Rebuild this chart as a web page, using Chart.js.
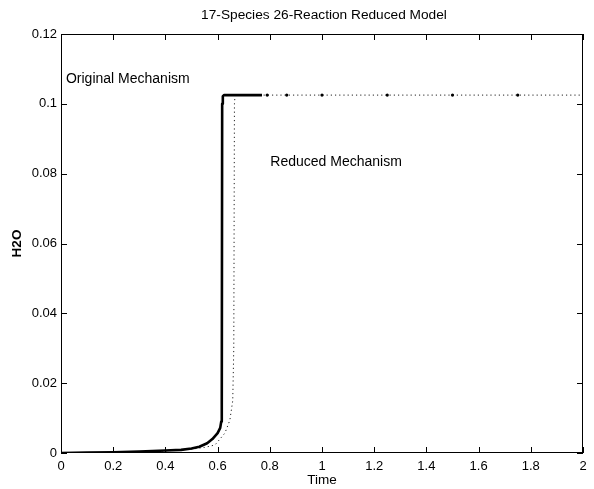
<!DOCTYPE html>
<html>
<head>
<meta charset="utf-8">
<title>17-Species 26-Reaction Reduced Model</title>
<script src="https://cdn.jsdelivr.net/npm/chart.js@4.4.0/dist/chart.umd.min.js"></script>
<style>
    html, body { margin: 0; padding: 0; background: #ffffff; }
    #wrap { width: 594px; height: 489px; position: relative; }
</style>
</head>
<body>
<div id="wrap"><canvas id="h2oChart"></canvas></div>
<script>
// Data
const chartTitle = '17-Species 26-Reaction Reduced Model';

const originalTime = [0, 0.1, 0.2, 0.3, 0.4, 0.46, 0.5, 0.53, 0.56, 0.58, 0.6, 0.61, 0.614, 0.616, 0.6175, 0.62, 0.625, 0.65, 0.7, 0.77];
const originalH2O  = [0, 0.0001, 0.0002, 0.0004, 0.0007, 0.0009, 0.0013, 0.0018, 0.0028, 0.004, 0.0057, 0.0072, 0.009, 0.014, 0.1, 0.1022, 0.1025, 0.1025, 0.1025, 0.1025];

const reducedTime = [0, 0.1, 0.2, 0.3, 0.4, 0.5, 0.55, 0.59, 0.628, 0.647, 0.658, 0.662, 0.6645, 0.667, 0.7, 0.79, 0.865, 1.0, 1.25, 1.5, 1.75, 2.0];
const reducedH2O  = [0, 0.0001, 0.0002, 0.0003, 0.0006, 0.0011, 0.0016, 0.0023, 0.0057, 0.0094, 0.015, 0.03, 0.1, 0.1025, 0.1025, 0.1025, 0.1025, 0.1025, 0.1025, 0.1025, 0.1025, 0.1025];
const reducedMarked = [0.79, 0.865, 1.0, 1.25, 1.5, 1.75];

const xTickValues = [0, 0.2, 0.4, 0.6, 0.8, 1, 1.2, 1.4, 1.6, 1.8, 2];
const xTickLabels = ['0', '0.2', '0.4', '0.6', '0.8', '1', '1.2', '1.4', '1.6', '1.8', '2'];
const yTickValues = [0, 0.02, 0.04, 0.06, 0.08, 0.1, 0.12];
const yTickLabels = ['0', '0.02', '0.04', '0.06', '0.08', '0.1', '0.12'];

const annotations = [
    { text: 'Original Mechanism', x: 0.019, y: 0.107 },
    { text: 'Reduced Mechanism', x: 0.802, y: 0.0832 }
];

const FONT = '"Liberation Sans", Arial, Helvetica, sans-serif';

function toPoints(xs, ys) {
    return xs.map((x, i) => ({ x: x, y: ys[i] }));
}

// Matlab-style frame: box, inward ticks on all sides, title and text labels
const matlabFrame = {
    id: 'matlabFrame',
    afterDraw(chart) {
        const ctx = chart.ctx;
        const a = chart.chartArea;
        const xs = chart.scales.x;
        const ys = chart.scales.y;
        const len = 6;
        ctx.save();
        ctx.strokeStyle = '#000';
        ctx.lineWidth = 1;
        ctx.strokeRect(a.left + 0.5, a.top + 0.5, a.right - a.left - 1, a.bottom - a.top - 1);
        ctx.beginPath();
        xTickValues.forEach(v => {
            const px = Math.round(xs.getPixelForValue(v)) + 0.5;
            ctx.moveTo(px, a.bottom); ctx.lineTo(px, a.bottom - len);
            ctx.moveTo(px, a.top); ctx.lineTo(px, a.top + len);
        });
        yTickValues.forEach(v => {
            const py = Math.round(ys.getPixelForValue(v)) + 0.5;
            ctx.moveTo(a.left, py); ctx.lineTo(a.left + len, py);
            ctx.moveTo(a.right, py); ctx.lineTo(a.right - len, py);
        });
        ctx.stroke();

        ctx.fillStyle = '#000';
        ctx.font = '13.7px ' + FONT;
        ctx.textAlign = 'center';
        ctx.textBaseline = 'middle';
        ctx.fillText(chartTitle, (a.left + a.right) / 2 + 2, 15);

        ctx.font = '14px ' + FONT;
        ctx.textAlign = 'left';
        annotations.forEach(n => {
            ctx.fillText(n.text, xs.getPixelForValue(n.x), ys.getPixelForValue(n.y));
        });
        ctx.restore();
    }
};

new Chart(document.getElementById('h2oChart'), {
    type: 'scatter',
    data: {
        datasets: [
            {
                label: 'Original Mechanism',
                data: toPoints(originalTime, originalH2O),
                showLine: true,
                borderColor: '#000',
                borderWidth: 2.6,
                borderJoinStyle: 'round',
                pointRadius: 0,
                tension: 0,
                order: 1
            },
            {
                label: 'Reduced Mechanism',
                data: toPoints(reducedTime, reducedH2O),
                showLine: true,
                borderColor: '#222',
                borderWidth: 1,
                borderDash: [1.2, 3],
                pointRadius: reducedTime.map(t => reducedMarked.includes(t) ? 1.6 : 0),
                pointBackgroundColor: '#000',
                pointBorderWidth: 0,
                tension: 0,
                order: 2
            }
        ]
    },
    options: {
        responsive: true,
        maintainAspectRatio: false,
        animation: false,
        events: [],
        layout: { padding: { top: 34, right: 11, left: 0, bottom: 0 } },
        plugins: {
            legend: { display: false },
            title: { display: false },
            tooltip: { enabled: false }
        },
        scales: {
            x: {
                type: 'linear',
                min: 0,
                max: 2,
                afterBuildTicks: s => { s.ticks = xTickValues.map(v => ({ value: v })); },
                afterFit: s => { s.height = 36; },
                grid: { display: false, drawTicks: false },
                border: { display: false },
                ticks: {
                    color: '#000',
                    padding: 6,
                    maxRotation: 0,
                    font: { family: FONT, size: 13 },
                    callback: (v, i) => xTickLabels[i]
                },
                title: {
                    display: true,
                    text: 'Time',
                    color: '#000',
                    padding: { top: 0, bottom: 1 },
                    font: { family: FONT, size: 13.5 }
                }
            },
            y: {
                type: 'linear',
                min: 0,
                max: 0.12,
                afterBuildTicks: s => { s.ticks = yTickValues.map(v => ({ value: v })); },
                afterFit: s => { s.width = 61; },
                grid: { display: false, drawTicks: false },
                border: { display: false },
                ticks: {
                    color: '#000',
                    padding: 4,
                    font: { family: FONT, size: 13 },
                    callback: (v, i) => yTickLabels[i]
                },
                title: {
                    display: true,
                    text: 'H2O',
                    color: '#000',
                    padding: { top: 9, bottom: 0 },
                    font: { family: FONT, size: 13.5, weight: 'bold' }
                }
            }
        }
    },
    plugins: [matlabFrame]
});
</script>
</body>
</html>
